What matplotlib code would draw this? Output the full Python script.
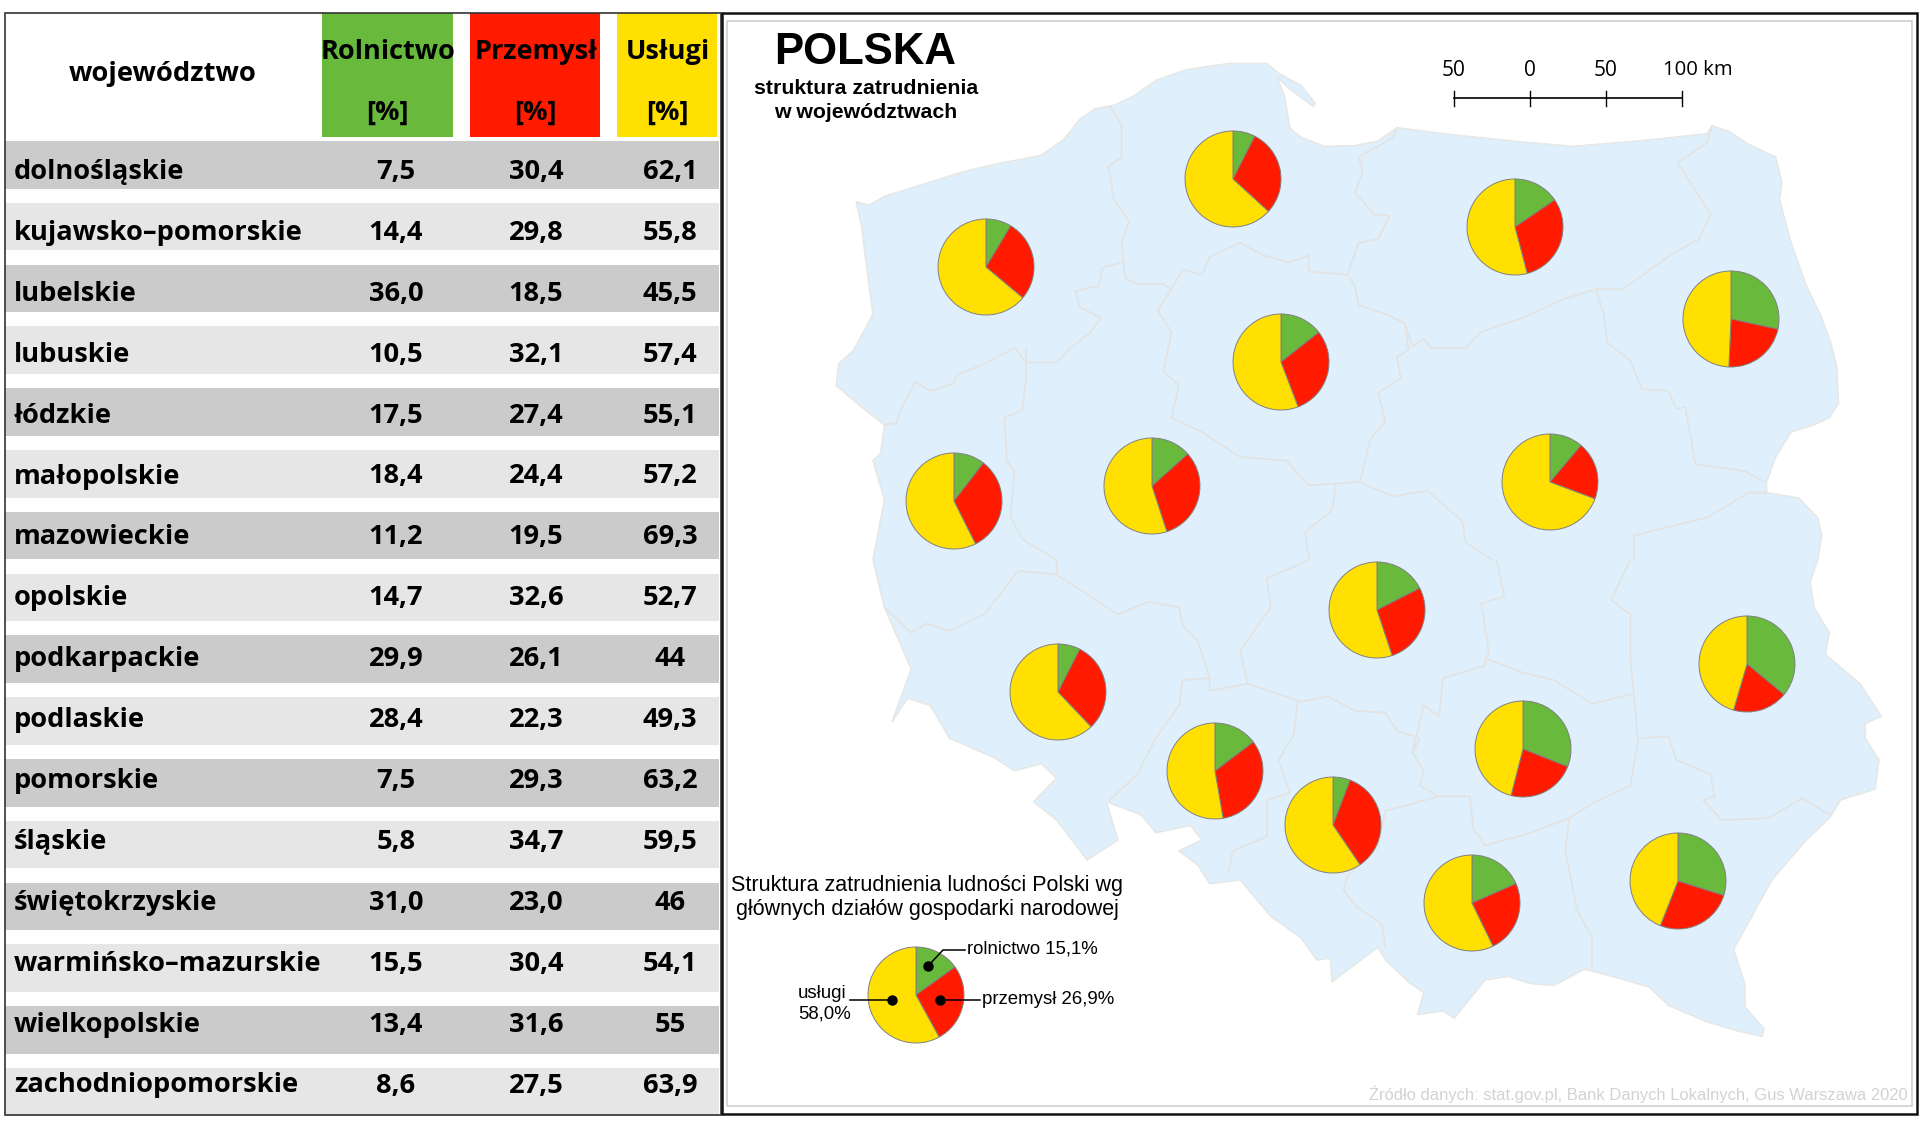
import matplotlib
matplotlib.use("Agg")
import matplotlib.pyplot as plt
from matplotlib.patches import Polygon, Rectangle

W, H = 1920, 1130

# Table data, in the order of the table
regions = ["dolnośląskie", "kujawsko–pomorskie", "lubelskie", "lubuskie", "łódzkie",
           "małopolskie", "mazowieckie", "opolskie", "podkarpackie", "podlaskie",
           "pomorskie", "śląskie", "świętokrzyskie", "warmińsko–mazurskie",
           "wielkopolskie", "zachodniopomorskie"]
rolnictwo = ["7,5", "14,4", "36,0", "10,5", "17,5", "18,4", "11,2", "14,7",
             "29,9", "28,4", "7,5", "5,8", "31,0", "15,5", "13,4", "8,6"]
przemysl = ["30,4", "29,8", "18,5", "32,1", "27,4", "24,4", "19,5", "32,6",
            "26,1", "22,3", "29,3", "34,7", "23,0", "30,4", "31,6", "27,5"]
uslugi = ["62,1", "55,8", "45,5", "57,4", "55,1", "57,2", "69,3", "52,7",
          "44", "49,3", "63,2", "59,5", "46", "54,1", "55", "63,9"]
poland = [15.1, 26.9, 58.0]

# Where each region's pie sits on the map (pixels of the reference)
pie_centres = {
    "dolnośląskie": (1058, 692), "kujawsko–pomorskie": (1281, 362),
    "lubelskie": (1747, 664), "lubuskie": (954, 501), "łódzkie": (1377, 610),
    "małopolskie": (1472, 903), "mazowieckie": (1550, 482), "opolskie": (1215, 771),
    "podkarpackie": (1678, 881), "podlaskie": (1731, 319), "pomorskie": (1233, 179),
    "śląskie": (1333, 825), "świętokrzyskie": (1523, 749),
    "warmińsko–mazurskie": (1515, 227), "wielkopolskie": (1152, 486),
    "zachodniopomorskie": (986, 267),
}

# Map shapes traced in two crop spaces: "n" is the northern crop, "s" the southern one
outline_n = [(178, 565), (195, 575), (215, 550), (260, 520), (320, 480), (360, 460), (420, 435),
             (450, 390), (470, 335), (490, 305), (515, 295), (540, 270), (570, 225), (610, 195),
             (665, 178), (715, 178), (730, 205), (760, 240), (778, 290), (775, 297), (745, 250),
             (728, 215), (738, 270), (745, 360), (760, 385), (790, 410), (830, 408), (860, 395),
             (885, 358), (960, 378), (1050, 398), (1115, 410), (1200, 395), (1290, 375), (1297, 352),
             (1320, 370), (1345, 405), (1380, 440), (1388, 510), (1385, 560), (1400, 680), (1420, 800),
             (1440, 890), (1452, 960), (1460, 1030), (1462, 1130), (1450, 1170), (1430, 1190),
             (1400, 1210), (1380, 1280), (1368, 1350), (1368, 1380), (1410, 1395), (1435, 1450),
             (1440, 1500)]
outline_s = [(1435, 0), (1425, 60), (1430, 130), (1450, 200), (1445, 260), (1490, 340), (1518, 430),
             (1497, 450), (1497, 490), (1515, 550), (1510, 630), (1465, 660), (1450, 710), (1420, 770),
             (1375, 880), (1325, 1070), (1340, 1170), (1340, 1230), (1365, 1290), (1362, 1310),
             (1330, 1295), (1290, 1270), (1240, 1225), (1215, 1175), (1175, 1150), (1130, 1125),
             (1090, 1170), (1060, 1165), (1030, 1145), (1000, 1155), (960, 1260), (945, 1240),
             (912, 1250), (920, 1190), (900, 1160), (870, 1100), (860, 1065), (800, 1160), (798, 1095),
             (780, 1100), (760, 1040), (720, 980), (680, 880), (640, 890), (625, 840), (600, 800),
             (630, 770), (615, 730), (570, 750), (550, 700), (505, 665), (520, 770), (480, 825),
             (440, 715), (410, 665), (440, 600), (420, 560), (385, 580), (360, 545), (300, 490),
             (275, 400), (245, 380), (225, 445), (250, 300), (215, 130), (200, 0)]
outline_w = [(200, 1568), (215, 1400), (200, 1290), (210, 1270), (215, 1190), (185, 1140), (152, 1080),
             (155, 1020), (175, 980), (200, 880), (190, 720), (185, 630)]

borders_n = [
    [(510, 297), (525, 350), (525, 440), (508, 465), (515, 560), (535, 620), (525, 680), (530, 780),
     (545, 795), (580, 795), (590, 810), (605, 755), (630, 770), (640, 720), (680, 680), (710, 715),
     (745, 735), (770, 715), (770, 760), (820, 770)],
    [(885, 358), (880, 385), (835, 440), (840, 480), (830, 540), (855, 600), (875, 605), (860, 670),
     (835, 680), (820, 770), (830, 800), (835, 855), (870, 880), (895, 905), (905, 970), (920, 950),
     (930, 975), (975, 975), (995, 930), (1050, 890), (1100, 840), (1145, 810), (1180, 810),
     (1200, 780), (1245, 710), (1280, 670), (1295, 600), (1265, 500), (1252, 455), (1290, 400),
     (1297, 352)],
    [(1145, 810), (1155, 880), (1160, 960), (1190, 1010), (1205, 1090), (1240, 1095), (1250, 1145),
     (1262, 1140), (1275, 1300), (1340, 1320), (1365, 1350)],
    [(525, 735), (500, 750), (495, 800), (465, 815), (470, 860), (498, 890), (485, 930), (455, 980),
     (440, 1015), (400, 1015), (385, 975), (345, 1020), (310, 1050), (305, 1075), (275, 1095),
     (255, 1070), (240, 1130), (230, 1185), (215, 1190)],
    [(400, 975), (400, 1060), (395, 1150), (372, 1170), (375, 1290), (385, 1320), (380, 1450),
     (395, 1510), (440, 1568), (440, 1609)],
    [(590, 810), (572, 870), (590, 930), (580, 1040), (600, 1080), (590, 1170), (630, 1210),
     (680, 1280), (740, 1290), (770, 1360), (835, 1350)],
    [(895, 905), (900, 980), (885, 1000), (890, 1060), (860, 1100), (870, 1180), (850, 1230),
     (838, 1340), (835, 1350), (880, 1390), (925, 1375), (970, 1460), (975, 1520), (1010, 1568)],
    [(805, 1360), (800, 1430), (765, 1490), (770, 1568)],
    [(1195, 1568), (1195, 1500), (1290, 1450), (1345, 1380), (1368, 1380)],
]
borders_s = [
    [(215, 130), (250, 200), (270, 175), (300, 195), (345, 150), (390, 30), (440, 40), (480, 95),
     (520, 150), (560, 115), (600, 130), (605, 180), (625, 225), (640, 325), (605, 330), (600, 400),
     (570, 490), (545, 590), (510, 660)],
    [(1015, 0), (1025, 100), (995, 120), (1005, 250), (1000, 290), (945, 325), (940, 430), (920, 400),
     (905, 530), (920, 580), (915, 620), (940, 650), (980, 650), (985, 740), (1000, 785), (1060, 750),
     (1110, 710), (1140, 670), (1190, 620), (1200, 500), (1195, 380), (1190, 270), (1190, 150),
     (1165, 110), (1190, 0)],
    [(770, 0), (715, 50), (720, 130), (680, 250), (690, 340), (640, 360), (640, 325)],
    [(690, 340), (760, 390), (795, 375), (830, 415), (870, 420), (885, 470), (915, 490), (905, 530)],
    [(755, 390), (750, 480), (730, 550), (745, 640), (715, 660), (715, 760), (670, 800), (665, 860)],
    [(940, 650), (870, 690), (860, 790), (820, 870), (815, 905), (830, 950), (865, 1000), (870, 1065)],
    [(1110, 710), (1105, 800), (1120, 960), (1140, 1040), (1140, 1120)],
    [(1000, 270), (1050, 310), (1090, 330), (1140, 395), (1190, 370)],
    [(1205, 490), (1240, 485), (1250, 550), (1295, 590), (1300, 650), (1285, 660), (1310, 715),
     (1370, 710), (1415, 655), (1450, 700)],
]

GREEN, RED, YELLOW = "#68B93C", "#FF1A00", "#FFE000"


def to_num(label):
    return float(label.replace(",", "."))


def fy(y):
    # the axes run upwards so pies keep their direction, the reference was read downwards
    return H - y


def north(points):
    return [(720 + u * 0.765, fy(v * 0.357)) for u, v in points]


def south(points):
    return [(720 + u * 0.765, fy(560 + v * 0.3636)) for u, v in points]


plt.rcParams["font.family"] = ["Open Sans", "DejaVu Sans"]
fig = plt.figure(figsize=(W / 100, H / 100), dpi=100)
ax = fig.add_axes([0, 0, 1, 1])

# table
header_cols = [(322, 131, GREEN, "Rolnictwo", 388), (470, 130, RED, "Przemysł", 536),
               (617, 100, YELLOW, "Usługi", 668)]
for x0, w, colour, name, xc in header_cols:
    ax.add_patch(Rectangle((x0, fy(137)), w, 124, fc=colour, ec="none", zorder=1))
    ax.text(xc, fy(52), name, ha="center", va="center", fontsize=19.5, fontweight="bold", zorder=3)
    ax.text(xc - 1, fy(113), "[%]", ha="center", va="center", fontsize=19.5, fontweight="bold", zorder=3)
ax.text(163, fy(74), "województwo", ha="center", va="center", fontsize=19.7, fontweight="bold", zorder=3)

row_top, row_step, row_h = 141, 61.8, 47.5
text_top, text_step = 172, 60.9
for i, name in enumerate(regions):
    top = row_top + i * row_step
    colour = "#CBCBCB" if i % 2 == 0 else "#E6E6E6"
    ax.add_patch(Rectangle((5, fy(top + row_h)), 714, row_h, fc=colour, ec="none", zorder=1))
    yc = fy(text_top + i * text_step)
    ax.text(14, yc, name, ha="left", va="center", fontsize=19.6, fontweight="bold", zorder=3)
    ax.text(396, yc, rolnictwo[i], ha="center", va="center", fontsize=19.6, fontweight="bold", zorder=3)
    ax.text(536, yc, przemysl[i], ha="center", va="center", fontsize=19.6, fontweight="bold", zorder=3)
    ax.text(670, yc, uslugi[i], ha="center", va="center", fontsize=19.6, fontweight="bold", zorder=3)

ax.add_patch(Rectangle((5, fy(1115)), 716, 1102, fc="none", ec="#333333", lw=1.2, zorder=4))

# map
outline = north(outline_n) + south(outline_s) + north(outline_w)
ax.add_patch(Polygon(outline, closed=True, fc="#DFF0FC", ec="#E6E8E8", lw=1.2, zorder=1))
for line in borders_n:
    pts = north(line)
    ax.plot([p[0] for p in pts], [p[1] for p in pts], color="#E3E3E3", lw=1.3, zorder=2)
for line in borders_s:
    pts = south(line)
    ax.plot([p[0] for p in pts], [p[1] for p in pts], color="#E3E3E3", lw=1.3, zorder=2)

pie_style = dict(startangle=90, counterclock=False, colors=[GREEN, RED, YELLOW],
                 wedgeprops=dict(edgecolor="#808080", linewidth=0.7, zorder=5), frame=True)
for i, name in enumerate(regions):
    cx, cy = pie_centres[name]
    vals = [to_num(rolnictwo[i]), to_num(przemysl[i]), to_num(uslugi[i])]
    ax.pie(vals, center=(cx, fy(cy)), radius=48, **pie_style)
ax.pie(poland, center=(916, fy(995)), radius=48, **pie_style)

# title and scale bar
ax.text(865, fy(53), "POLSKA", ha="center", va="center", fontsize=31.5, fontweight="bold",
        family="Liberation Sans")
ax.text(866, fy(89), "struktura zatrudnienia", ha="center", va="center", fontsize=15.3,
        fontweight="bold", family="Liberation Sans")
ax.text(866, fy(113), "w województwach", ha="center", va="center", fontsize=15.3,
        fontweight="bold", family="Liberation Sans")

scale_ticks = [1454, 1530, 1606, 1682]
scale_labels = ["50", "0", "50"]
ax.plot([scale_ticks[0], scale_ticks[-1]], [fy(98), fy(98)], color="black", lw=1.2, zorder=6)
for x in scale_ticks:
    ax.plot([x, x], [fy(91), fy(106)], color="black", lw=1, zorder=6)
for x, label in zip(scale_ticks, scale_labels):
    ax.text(x, fy(70), label, ha="center", va="center", fontsize=15)
ax.text(1698, fy(70), "100 km", ha="center", va="center", fontsize=14.7)

# legend
legend_font = dict(family="Liberation Sans", fontsize=15.5, zorder=7)
ax.text(927, fy(885), "Struktura zatrudnienia ludności Polski wg", ha="center", va="center", **legend_font)
ax.text(927, fy(909), "głównych działów gospodarki narodowej", ha="center", va="center", **legend_font)
ax.text(967, fy(949), "rolnictwo 15,1%", ha="left", va="center", family="Liberation Sans", fontsize=13.4)
ax.text(982, fy(999), "przemysł 26,9%", ha="left", va="center", family="Liberation Sans", fontsize=13.4)
ax.text(798, fy(993), "usługi", ha="left", va="center", family="Liberation Sans", fontsize=13.4)
ax.text(798, fy(1014), "58,0%", ha="left", va="center", family="Liberation Sans", fontsize=13.4)

leaders = [[(928, 966), (943, 950), (965, 950)], [(940, 1000), (980, 1000)], [(892, 1000), (850, 1000)]]
for pts in leaders:
    ax.plot([p[0] for p in pts], [fy(p[1]) for p in pts], color="black", lw=1.1, zorder=7)
    ax.plot(pts[0][0], fy(pts[0][1]), "o", color="black", ms=6.5, zorder=7)

ax.text(1908, fy(1094), "Źródło danych: stat.gov.pl, Bank Danych Lokalnych, Gus Warszawa 2020",
        ha="right", va="center", color="#D2D2D2", family="Liberation Sans", fontsize=11.9)

# frames of the map panel
ax.add_patch(Rectangle((722, fy(1114)), 1195, 1101, fc="none", ec="#111111", lw=1.8, zorder=8))
ax.add_patch(Rectangle((727, fy(1106)), 1185, 1085, fc="none", ec="#D0D0D0", lw=1.2, zorder=8))

ax.set_xlim(0, W)
ax.set_ylim(0, H)
ax.set_aspect("auto")
ax.axis("off")
fig.savefig("out.png", dpi=100, facecolor="white")
